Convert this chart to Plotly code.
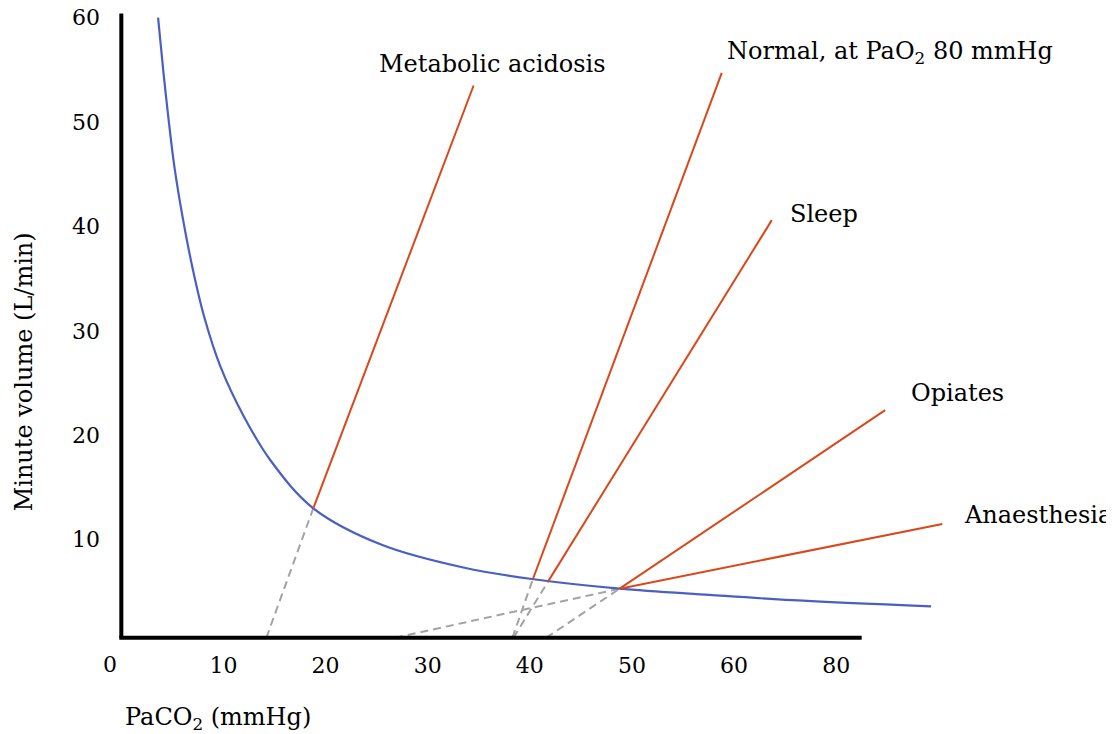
import plotly.graph_objects as go

# ---- data ----
# blue curve: minute volume needed vs PaCO2
curve_paco2 = [3.6, 4.1, 4.6, 5.2, 6.0, 7.0, 8.1, 9.7, 12.0, 14.6, 18.8, 25.5, 33.6, 40.4, 48.8, 57.6, 65.7, 79.3]
curve_volume = [60.0, 55.0, 50.5, 45.7, 40.9, 35.9, 31.4, 26.6, 21.8, 17.6, 13.0, 9.5, 7.3, 6.2, 5.3, 4.7, 4.2, 3.6]

# CO2 response lines
response_names = ["Metabolic acidosis", "Normal, at PaO<sub>2</sub> 80 mmHg", "Sleep", "Opiates", "Anaesthesia"]
resp_intercept_x = [14.2, 38.3, 38.4, 41.6, 26.8]   # where the dashed extension meets the axis
resp_cross_x = [18.8, 40.3, 41.8, 48.8, 48.8]       # crossing with the blue curve
resp_cross_y = [13.0, 6.2, 6.0, 5.3, 5.3]
resp_end_x = [34.5, 58.8, 63.7, 74.8, 80.4]
resp_end_y = [53.5, 54.7, 40.6, 22.4, 11.5]

x_tick_vals = [10, 20, 30, 40, 50, 60, 70]
x_tick_text = ["10", "20", "30", "40", "50", "60", "80"]
y_tick_vals = [10, 20, 30, 40, 50, 60]

# ---- style ----
FONT = "DejaVu Serif"
BLUE = "#4a5fc3"
RED = "#d9481b"
GREY = "#a3a3a3"
AXIS_Y = 0.6       # level of the drawn x-axis line
AXIS_X_END = 72.5
LABEL_SIZE = 24
TICK_SIZE = 22

label_pos = [(25.0, 55.6), (59.1, 56.7), (65.3, 41.2), (77.1, 24.0), (82.3, 12.4)]

fig = go.Figure()

# dashed extensions
for i in range(len(response_names)):
    fig.add_trace(go.Scatter(
        x=[resp_intercept_x[i], resp_cross_x[i]], y=[AXIS_Y, resp_cross_y[i]],
        mode="lines", line=dict(color=GREY, width=2, dash="8px,5px"),
        hoverinfo="skip", showlegend=False))

# blue curve
fig.add_trace(go.Scatter(
    x=curve_paco2, y=curve_volume, mode="lines",
    line=dict(color=BLUE, width=2.2, shape="spline", smoothing=1.0),
    showlegend=False))

# red response lines
for i in range(len(response_names)):
    fig.add_trace(go.Scatter(
        x=[resp_cross_x[i], resp_end_x[i]], y=[resp_cross_y[i], resp_end_y[i]],
        mode="lines", line=dict(color=RED, width=2),
        name=response_names[i], showlegend=False))

# line labels
for name, (lx, ly) in zip(response_names, label_pos):
    fig.add_annotation(x=lx, y=ly, xref="x", yref="y", text=name, showarrow=False,
                       xanchor="left", yanchor="middle",
                       font=dict(family=FONT, size=LABEL_SIZE, color="black"))

# axis lines
fig.add_shape(type="line", x0=-0.2, x1=AXIS_X_END, y0=AXIS_Y, y1=AXIS_Y,
              xref="x", yref="y", line=dict(color="black", width=4))
fig.add_shape(type="line", x0=0, x1=0, y0=AXIS_Y, y1=60.4,
              xref="x", yref="y", line=dict(color="black", width=4))

# corner "0"
fig.add_annotation(x=-1.1, y=0, xref="x", yref="y", text="0", showarrow=False,
                   xanchor="center", yanchor="top", yshift=-6,
                   font=dict(family=FONT, size=TICK_SIZE, color="black"))

# axis titles
fig.add_annotation(x=0.2, y=-0.118, xref="x", yref="paper", text="PaCO<sub>2</sub> (mmHg)",
                   showarrow=False, xanchor="left", yanchor="middle",
                   font=dict(family=FONT, size=LABEL_SIZE, color="black"))
fig.add_annotation(x=-0.085, y=0.43, xref="paper", yref="paper", text="Minute volume (L/min)",
                   showarrow=False, textangle=-90, xanchor="center", yanchor="middle",
                   font=dict(family=FONT, size=LABEL_SIZE, color="black"))

# the page body adds an 8px offset, so the figure is 8px smaller than the window
fig.update_layout(
    width=1106, height=726,
    margin=dict(l=98, r=43, t=2, b=90),
    plot_bgcolor="white", paper_bgcolor="white",
    font=dict(family=FONT, size=TICK_SIZE, color="black"),
    xaxis=dict(range=[-1.5, 93], tickvals=x_tick_vals, ticktext=x_tick_text,
               showgrid=False, zeroline=False, showline=False, ticks="",
               automargin=False, ticklabelstandoff=6, ticklabeloverflow="allow",
               tickfont=dict(family=FONT, size=TICK_SIZE, color="black")),
    yaxis=dict(range=[0, 60.73], tickvals=y_tick_vals,
               showgrid=False, zeroline=False, showline=False, ticks="",
               automargin=False, ticklabelstandoff=5, ticklabeloverflow="allow",
               tickfont=dict(family=FONT, size=TICK_SIZE, color="black")),
)

fig.write_html("out.html")
